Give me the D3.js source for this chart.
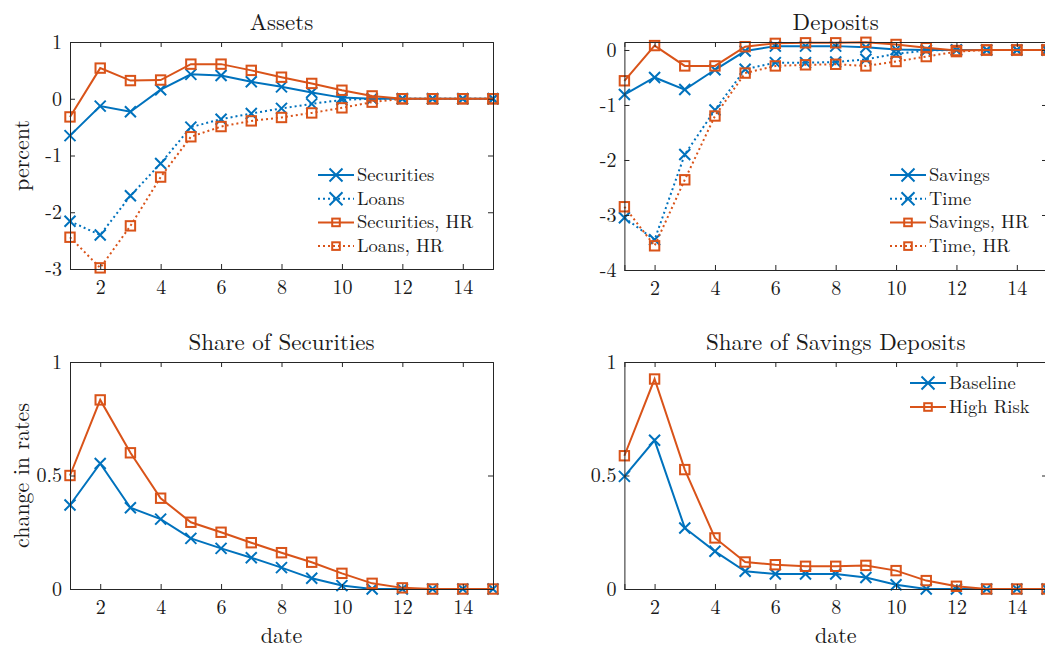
<!DOCTYPE html>
<html>
<head>
<meta charset="utf-8">
<script src="https://cdn.jsdelivr.net/npm/d3@7"></script>
<style>
  html, body { margin: 0; padding: 0; background: #fff; }
  svg { display: block; }
</style>
</head>
<body>
<svg id="fig" width="1045" height="648"></svg>
<script>
// Horizon (date) and tick labels
const dates = [1, 2, 3, 4, 5, 6, 7, 8, 9, 10, 11, 12, 13, 14, 15];
const xTicks = [2, 4, 6, 8, 10, 12, 14];
const assetTicks = [-3, -2, -1, 0, 1];
const depositTicks = [-4, -3, -2, -1, 0];
const shareTicks = [0, 0.5, 1];

// Assets responses (percent)
const assetsSecurities   = [-0.65, -0.13, -0.23, 0.16, 0.43, 0.41, 0.30, 0.21, 0.11, 0.02, 0.00, 0, 0, 0, 0];
const assetsLoans        = [-2.16, -2.40, -1.71, -1.14, -0.50, -0.36, -0.26, -0.17, -0.09, -0.02, 0.00, 0, 0, 0, 0];
const assetsSecuritiesHR = [-0.32, 0.54, 0.32, 0.33, 0.61, 0.61, 0.50, 0.38, 0.27, 0.15, 0.05, 0.00, 0, 0, 0];
const assetsLoansHR      = [-2.44, -2.98, -2.24, -1.38, -0.67, -0.49, -0.39, -0.33, -0.25, -0.16, -0.06, 0.00, 0, 0, 0];

// Deposits responses (percent)
const depSavings   = [-0.81, -0.50, -0.72, -0.36, -0.02, 0.07, 0.07, 0.07, 0.05, 0.01, 0.00, 0, 0, 0, 0];
const depTime      = [-3.05, -3.45, -1.90, -1.09, -0.35, -0.23, -0.23, -0.22, -0.17, -0.07, -0.01, 0, 0, 0, 0];
const depSavingsHR = [-0.56, 0.08, -0.29, -0.29, 0.06, 0.12, 0.13, 0.13, 0.14, 0.10, 0.04, -0.01, 0, 0, 0];
const depTimeHR    = [-2.85, -3.56, -2.36, -1.20, -0.42, -0.29, -0.27, -0.26, -0.29, -0.21, -0.12, -0.03, 0, 0, 0];

// Share responses (change in rates)
const shareSecBase = [0.37, 0.553, 0.358, 0.308, 0.223, 0.179, 0.138, 0.094, 0.047, 0.015, 0.00, 0, 0, 0, 0];
const shareSecHR   = [0.50, 0.833, 0.60, 0.40, 0.294, 0.25, 0.204, 0.16, 0.118, 0.069, 0.025, 0.005, 0, 0, 0];
const shareSavBase = [0.496, 0.655, 0.269, 0.166, 0.078, 0.066, 0.066, 0.066, 0.051, 0.019, 0.00, 0, 0, 0, 0];
const shareSavHR   = [0.587, 0.925, 0.526, 0.225, 0.119, 0.107, 0.10, 0.10, 0.104, 0.081, 0.037, 0.012, 0, 0, 0];

const BLUE = "#0072BD";
const ORANGE = "#D95319";
const AXIS = "#262626";
const TEXT = "#1a1a1a";
const FONT = '"Latin Modern Roman", "Liberation Serif", serif';

const svg = d3.select("#fig");

// plain hyphen for negative tick labels
const intFmt = d => String(d);

function label(g, x, y, size, str, anchor) {
  return g.append("text")
    .attr("x", x).attr("y", y)
    .attr("text-anchor", anchor || "middle")
    .style("font-family", FONT).style("font-size", size + "px")
    .attr("fill", TEXT)
    .text(str);
}

function markerX(g, x, y, r, color) {
  g.append("path")
    .attr("d", `M${x - r},${y - r}L${x + r},${y + r}M${x - r},${y + r}L${x + r},${y - r}`)
    .attr("stroke", color).attr("stroke-width", 2).attr("fill", "none");
}
function markerSq(g, x, y, r, color) {
  g.append("rect")
    .attr("x", x - r).attr("y", y - r).attr("width", 2 * r).attr("height", 2 * r)
    .attr("stroke", color).attr("stroke-width", 2).attr("fill", "none");
}

function panel(cfg) {
  const g = svg.append("g");
  const x = d3.scaleLinear().domain([1, 15]).range([cfg.left, cfg.right]);
  const y = d3.scaleLinear().domain(cfg.yDomain).range([cfg.bottom, cfg.top]);

  // series lines and markers
  cfg.series.forEach(s => {
    const line = d3.line().x((d, i) => x(dates[i])).y(d => y(d));
    g.append("path")
      .datum(s.values)
      .attr("d", line)
      .attr("fill", "none")
      .attr("stroke", s.color)
      .attr("stroke-width", 2)
      .attr("stroke-dasharray", s.dotted ? "2,3" : null);
    s.values.forEach((v, i) => {
      if (s.marker === "x") markerX(g, x(dates[i]), y(v), 5.5, s.color);
      else markerSq(g, x(dates[i]), y(v), 4.7, s.color);
    });
  });

  // axis frame with inward ticks
  const bottomAx = d3.axisBottom(x).tickValues(xTicks).tickSize(-5).tickPadding(11).tickFormat(intFmt);
  const topAx = d3.axisTop(x).tickValues(xTicks).tickSize(-5).tickFormat("");
  const leftAx = d3.axisLeft(y).tickValues(cfg.yTicks).tickSize(-5).tickPadding(8).tickFormat(intFmt);
  const rightAx = d3.axisRight(y).tickValues(cfg.yTicks).tickSize(-5).tickFormat("");

  const axes = [
    g.append("g").attr("transform", `translate(0,${cfg.bottom})`).call(bottomAx),
    g.append("g").attr("transform", `translate(0,${cfg.top})`).call(topAx),
    g.append("g").attr("transform", `translate(${cfg.left},0)`).call(leftAx),
    g.append("g").attr("transform", `translate(${cfg.right},0)`).call(rightAx)
  ];
  axes.forEach(a => {
    a.attr("font-family", null).attr("font-size", null);
    a.select(".domain").attr("stroke", AXIS).attr("stroke-width", 1);
    a.selectAll(".tick line").attr("stroke", AXIS).attr("stroke-width", 1);
    a.selectAll(".tick text")
      .style("font-family", FONT).style("font-size", "20px").attr("fill", TEXT);
  });

  // title
  label(g, (cfg.left + cfg.right) / 2, cfg.top - 12, 23, cfg.title);

  if (cfg.xLabel) {
    label(g, (cfg.left + cfg.right) / 2, cfg.bottom + 54, 22, cfg.xLabel);
  }
  if (cfg.yLabel) {
    label(g, 0, 0, 22, cfg.yLabel)
      .attr("transform", `translate(${cfg.left - 41},${(cfg.top + cfg.bottom) / 2}) rotate(-90)`);
  }

  // legend
  if (cfg.legend) {
    const L = cfg.legend;
    cfg.series.forEach((s, i) => {
      const ly = L.y + i * L.dy;
      g.append("line")
        .attr("x1", L.x).attr("x2", L.x + 36).attr("y1", ly).attr("y2", ly)
        .attr("stroke", s.color).attr("stroke-width", 2)
        .attr("stroke-dasharray", s.dotted ? "2,3" : null);
      if (s.marker === "x") markerX(g, L.x + 18, ly, 6.5, s.color);
      else markerSq(g, L.x + 18, ly, 3.8, s.color);
      label(g, L.x + 39, ly + 6, 18.5, s.name, "start");
    });
  }
}

panel({
  left: 70, right: 493, top: 42, bottom: 269,
  yDomain: [-3, 1], yTicks: assetTicks,
  title: "Assets", yLabel: "percent",
  series: [
    { name: "Securities", values: assetsSecurities, color: BLUE, marker: "x", dotted: false },
    { name: "Loans", values: assetsLoans, color: BLUE, marker: "x", dotted: true },
    { name: "Securities, HR", values: assetsSecuritiesHR, color: ORANGE, marker: "sq", dotted: false },
    { name: "Loans, HR", values: assetsLoansHR, color: ORANGE, marker: "sq", dotted: true }
  ],
  legend: { x: 318, y: 175, dy: 23.7 }
});

panel({
  left: 624.4, right: 1047, top: 42, bottom: 270,
  yDomain: [-4, 0.145], yTicks: depositTicks,
  title: "Deposits",
  series: [
    { name: "Savings", values: depSavings, color: BLUE, marker: "x", dotted: false },
    { name: "Time", values: depTime, color: BLUE, marker: "x", dotted: true },
    { name: "Savings, HR", values: depSavingsHR, color: ORANGE, marker: "sq", dotted: false },
    { name: "Time, HR", values: depTimeHR, color: ORANGE, marker: "sq", dotted: true }
  ],
  legend: { x: 890, y: 175, dy: 23.7 }
});

panel({
  left: 70, right: 493, top: 362, bottom: 589,
  yDomain: [0, 1], yTicks: shareTicks,
  title: "Share of Securities", yLabel: "change in rates", xLabel: "date",
  series: [
    { name: "Baseline", values: shareSecBase, color: BLUE, marker: "x", dotted: false },
    { name: "High Risk", values: shareSecHR, color: ORANGE, marker: "sq", dotted: false }
  ]
});

panel({
  left: 624.4, right: 1047, top: 362, bottom: 589,
  yDomain: [0, 1], yTicks: shareTicks,
  title: "Share of Savings Deposits", xLabel: "date",
  series: [
    { name: "Baseline", values: shareSavBase, color: BLUE, marker: "x", dotted: false },
    { name: "High Risk", values: shareSavHR, color: ORANGE, marker: "sq", dotted: false }
  ],
  legend: { x: 910, y: 383, dy: 24 }
});
</script>
</body>
</html>
